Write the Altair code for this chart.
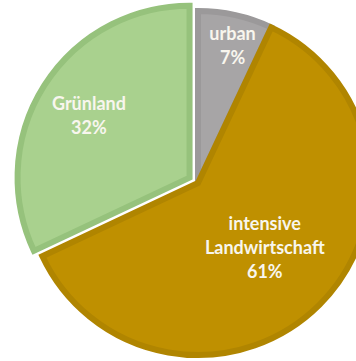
import altair as alt
import pandas as pd
import math

categories = ["urban", "intensive Landwirtschaft", "Grünland"]
values = [7, 61, 32]

df = pd.DataFrame({"category": categories, "value": values})

fills = ["#a7a5a6", "#bf9000", "#a9d18e"]
strokes = ["#9b999a", "#b08500", "#96c27c"]

CX, CY = 198, 183
R = 175
SW = 6
EXPLODE = 10  # px, for Grünland

theta_scale = alt.Scale(domain=[0, 100], range=[0, 2 * math.pi])

base = alt.Chart(df).transform_window(
    cum="sum(value)", frame=[None, 0]
).transform_calculate(
    start="datum.cum - datum.value",
    mid="datum.cum - datum.value / 2",
    label="datum.category + ' ' + datum.value + '%'",
)

fill_enc = alt.Fill("category:N", scale=alt.Scale(domain=categories, range=fills), legend=None)
stroke_enc = alt.Stroke("category:N", scale=alt.Scale(domain=categories, range=strokes), legend=None)

# Grünland explode offset along its bisector
g_start = sum(values[:2]) / 100 * 2 * math.pi
g_end = sum(values) / 100 * 2 * math.pi
g_mid = (g_start + g_end) / 2
gx = CX + EXPLODE * math.sin(g_mid)
gy = CY - EXPLODE * math.cos(g_mid)

main = base.transform_filter(alt.datum.category != "Grünland").mark_arc(
    outerRadius=R - SW / 2, strokeWidth=SW
).encode(
    theta=alt.Theta("start:Q", scale=theta_scale),
    theta2="cum:Q",
    fill=fill_enc,
    stroke=stroke_enc,
    x=alt.value(CX),
    y=alt.value(CY),
)

green = base.transform_filter(alt.datum.category == "Grünland").mark_arc(
    outerRadius=R - SW / 2, strokeWidth=SW
).encode(
    theta=alt.Theta("start:Q", scale=theta_scale),
    theta2="cum:Q",
    fill=fill_enc,
    stroke=stroke_enc,
    x=alt.value(gx),
    y=alt.value(gy),
)

# (radius, dx, dy) for each label
label_pos = {
    "urban": (140, 4, -11),
    "intensive Landwirtschaft": (93, 1, -24),
    "Grünland": (118, -1, -9),
}
label_layers = []
for cat, (r, dx, dy) in label_pos.items():
    cx, cy = (gx, gy) if cat == "Grünland" else (CX, CY)
    label_layers.append(
        base.transform_filter(alt.datum.category == cat).mark_text(
            font="Lato", fontWeight="bold", fontSize=18, color="#f8f6ee",
            lineBreak=" ", lineHeight=24, align="center", baseline="middle",
            dx=dx, dy=dy,
        ).encode(
            theta=alt.Theta("mid:Q", scale=theta_scale),
            radius=alt.value(r),
            text="label:N",
            x=alt.value(cx),
            y=alt.value(cy),
        )
    )

chart = alt.layer(main, green, *label_layers).properties(
    width=356, height=361, autosize=alt.AutoSizeParams(type="none"), padding=0,
    background="white",
).configure_view(stroke=None)

chart.save("out.html", embed_options={"renderer": "svg", "actions": False})
